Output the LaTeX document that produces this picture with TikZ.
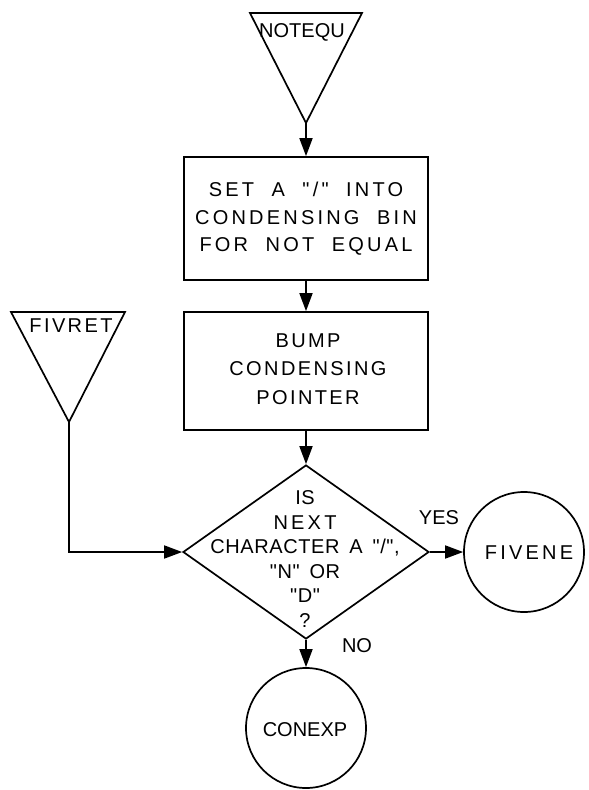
\documentclass[tikz,border=0pt]{standalone}
\usepackage{fontspec}
\setmainfont{Liberation Sans}[Ligatures=TeXOff]
\newfontfamily\spaced{Liberation Sans}[Ligatures=TeXOff,LetterSpace=12]
\newfontfamily\widespaced{Liberation Sans}[Ligatures=TeXOff,LetterSpace=16,WordSpace=2]
\newfontfamily\tightspaced{Liberation Sans}[Ligatures=TeXOff,LetterSpace=3,WordSpace=1.6]
\usetikzlibrary{arrows.meta}
\usetikzlibrary{shapes.geometric}

\tikzset{
        >={Triangle[length=18pt,width=13pt]},
        every path/.style={line width=1.7pt},
        lettering/.style={font=\spaced\fontsize{20}{27}\selectfont,align=center,inner sep=0pt},
        stepbox/.style={draw,line width=1.7pt,minimum width=244pt,inner sep=0pt},
        decision/.style={draw,diamond,line width=1.7pt,minimum width=246pt,minimum height=174pt,inner sep=0pt},
        connector/.style={draw,circle,line width=1.7pt,minimum size=120pt,inner sep=0pt}
}

\begin{document}
\begin{tikzpicture}[x=1pt,y=-1pt]
        \useasboundingbox (0,0) rectangle (589,790);
        % entry points
        \coordinate (notequ tip) at (306,123);
        \draw (250,13) -- (362,13) -- (notequ tip) -- cycle;
        \node[lettering,font=\fontsize{20}{22}\selectfont] (notequ) at (302,32) {NOTEQU};
        \coordinate (fivret tip) at (69,422);
        \draw (11,312) -- (125,312) -- (fivret tip) -- cycle;
        \node[lettering] (fivret) at (71,326) {FIVRET};
        % process boxes
        \node[stepbox,minimum height=123pt] (setbin) at (306,218.5) {};
        \node[lettering,font=\widespaced\fontsize{20}{27.5}\selectfont] (setbin text) at (306,219) {SET A "/" INTO\\CONDENSING BIN\\FOR NOT EQUAL};
        \node[stepbox,minimum height=118pt] (bump) at (306,371) {};
        \node[lettering,font=\spaced\fontsize{20}{28.5}\selectfont] (bump text) at (308,369) {BUMP\\CONDENSING\\POINTER};
        % test
        \node[decision] (isnext) at (306,552) {};
        \node[lettering,font=\tightspaced\fontsize{20}{24.6}\selectfont] (isnext text) at (305,559) {IS\\{\widespaced NEXT}\\CHARACTER A "/",\\"N" OR\\"D"\\?};
        % exits
        \node[connector] (fivene) at (524,552) {};
        \node[lettering,font=\widespaced\fontsize{20}{22}\selectfont] (fivene text) at (529,553) {FIVENE};
        \node[connector] (conexp) at (306,728) {};
        \node[lettering,font=\fontsize{20}{22}\selectfont] (conexp text) at (305,730) {CONEXP};
        \node[lettering,font=\fontsize{20}{22}\selectfont] (yes) at (439,518) {YES};
        \node[lettering,font=\fontsize{20}{22}\selectfont] (no) at (357,646) {NO};
        % flow
        \draw[->] (notequ tip) -- (setbin.north);
        \draw[->] (setbin.south) -- (bump.north);
        \draw[->] (bump.south) -- (isnext.north);
        \draw[->] (fivret tip) |- (isnext.west);
        \draw[->] (isnext.east) -- (fivene.west);
        \draw[->] (isnext.south) -- (conexp.north);
\end{tikzpicture}
\end{document}
